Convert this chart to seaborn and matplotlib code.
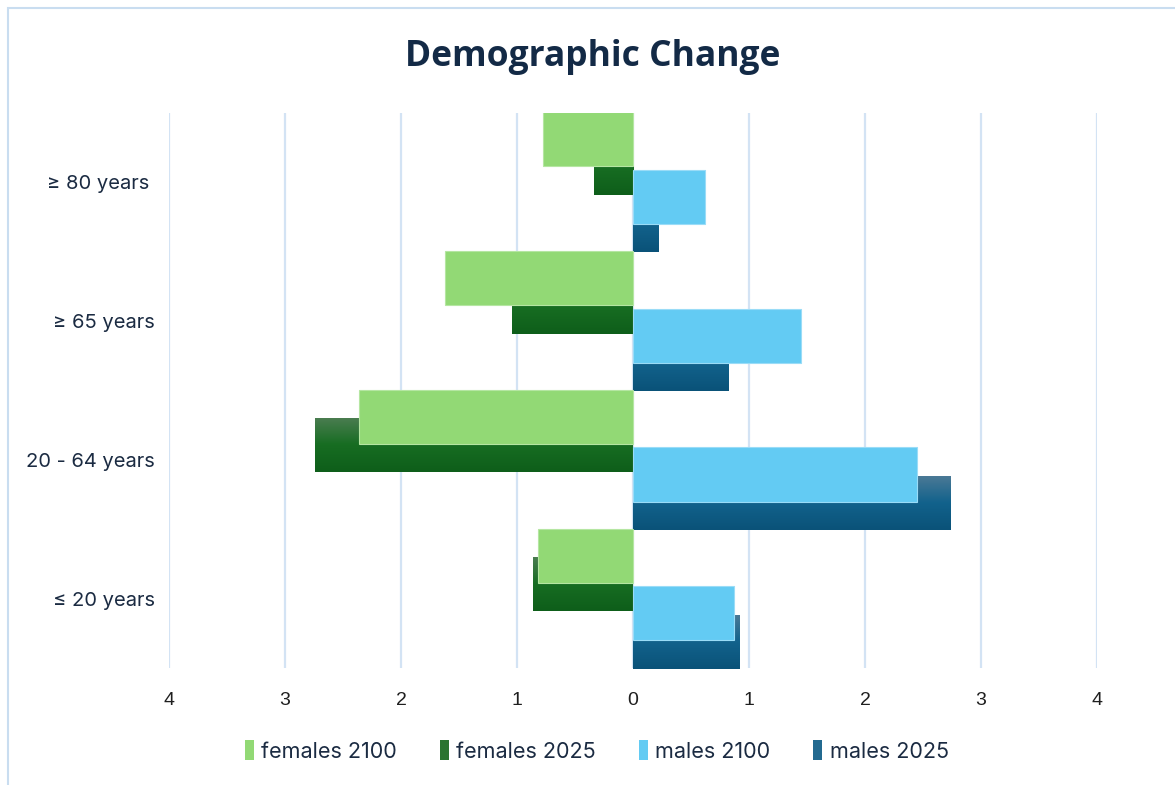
import numpy as np
import pandas as pd
import matplotlib
matplotlib.use("Agg")
import matplotlib.pyplot as plt
import matplotlib.colors as mcolors
from matplotlib.patches import Rectangle, Patch
import seaborn as sns

# --- data -------------------------------------------------------------
categories = ["≥ 80 years ", "≥ 65 years", "20 - 64 years", "≤ 20 years"]
females_2100 = [0.78, 1.62, 2.36, 0.82]
females_2025 = [0.34, 1.04, 2.74, 0.86]
males_2100 = [0.62, 1.45, 2.45, 0.87]
males_2025 = [0.22, 0.82, 2.74, 0.92]
series_names = ["females 2100", "females 2025", "males 2100", "males 2025"]
x_ticks = [-4, -3, -2, -1, 0, 1, 2, 3, 4]

# --- style ------------------------------------------------------------
sns.set_theme(style="white")
plt.rcParams["font.family"] = ["Inter", "DejaVu Sans"]

navy = "#1b2b42"
grid_col = "#d3e3f4"
light_green = "#92d975"
light_blue = "#63cbf3"
dark_green_stops = ["#4c7d52", "#176d22", "#0e5e1a"]
dark_blue_stops = ["#4d7a96", "#12628c", "#0a5278"]

# long table: females drawn to the left of zero
offsets = {"females 2100": -0.31, "females 2025": -0.105,
           "males 2100": 0.105, "males 2025": 0.31}
values = {"females 2100": [-v for v in females_2100],
          "females 2025": [-v for v in females_2025],
          "males 2100": males_2100,
          "males 2025": males_2025}
rows = []
for name in series_names:
    for i, v in enumerate(values[name]):
        rows.append({"series": name, "pos": i + offsets[name], "value": v})
df = pd.DataFrame(rows)

fig = plt.figure(figsize=(11.75, 7.85), dpi=100)
ax = fig.add_axes([169 / 1175, 117 / 785, 928 / 1175, 555 / 785])

bar_h = 0.39


def draw(name, color, edge, z):
    sub = df[df["series"] == name]
    before = len(ax.patches)
    sns.barplot(data=sub, x="value", y="pos", orient="h", native_scale=True,
                width=bar_h, color=color, edgecolor=edge, linewidth=0.8,
                saturation=1, errorbar=None, ax=ax)
    new = ax.patches[before:]
    for p in new:
        p.set_zorder(z)
    return new


def add_gradient(patches, stops, z):
    cmap = mcolors.LinearSegmentedColormap.from_list("g", stops)
    grad = np.linspace(0, 1, 256).reshape(-1, 1)
    for p in patches:
        x0, y0, w, h = p.get_x(), p.get_y(), p.get_width(), p.get_height()
        im = ax.imshow(grad, cmap=cmap, aspect="auto", origin="upper",
                       extent=(x0, x0 + w, y0 + h, y0), zorder=z,
                       interpolation="bilinear")
        im.set_clip_path(p)


# 2025 bars sit behind the 2100 bars
fg = draw("females 2025", dark_green_stops[1], "none", 2)
add_gradient(fg, dark_green_stops, 2.1)
mb = draw("males 2025", dark_blue_stops[1], "none", 2)
add_gradient(mb, dark_blue_stops, 2.1)
draw("females 2100", light_green, "#b5e6a2", 3)
draw("males 2100", light_blue, "#9adcf7", 3)

# axes
ax.set_xlim(-4, 4)
ax.set_ylim(3.5, -0.5)
ax.set_xticks(x_ticks)
ax.set_xticklabels([str(abs(t)) for t in x_ticks], fontsize=14,
                   color="#1f1f1f", family=["Liberation Sans", "DejaVu Sans"])
ax.set_yticks(range(len(categories)))
ax.set_yticklabels(categories, fontsize=14.5, color=navy)
ax.tick_params(axis="x", length=0, pad=17)
ax.tick_params(axis="y", length=0, pad=10)
ax.set_xlabel("")
ax.set_ylabel("")
for s in ax.spines.values():
    s.set_visible(False)
ax.xaxis.grid(True, color=grid_col, linewidth=1.6, zorder=0)
ax.yaxis.grid(False)
ax.set_axisbelow(True)

# title
fig.text(0.504, 1 - 57 / 785, "Demographic Change", ha="center", va="center",
         fontsize=25.5, fontweight="bold", color="#132a46",
         family=["Open Sans", "DejaVu Sans"])

# legend
handles = [Patch(facecolor=light_green, edgecolor="none"),
           Patch(facecolor="#2b7430", edgecolor="none"),
           Patch(facecolor=light_blue, edgecolor="none"),
           Patch(facecolor="#236a90", edgecolor="none")]
fig.legend(handles, series_names, loc="center", bbox_to_anchor=(0.508, 1 - 751 / 785),
           ncol=4, frameon=False, fontsize=15.5, handlelength=0.42, handleheight=1.0,
           handletextpad=0.33, columnspacing=2.0, labelcolor=navy)

# chart border
fig.patches.append(Rectangle((8 / 1175, -0.05), 1.1, 1.05 - 8 / 785,
                             transform=fig.transFigure, fill=False,
                             edgecolor="#c9ddf0", linewidth=1.5))

fig.savefig("out.png", dpi=100)
